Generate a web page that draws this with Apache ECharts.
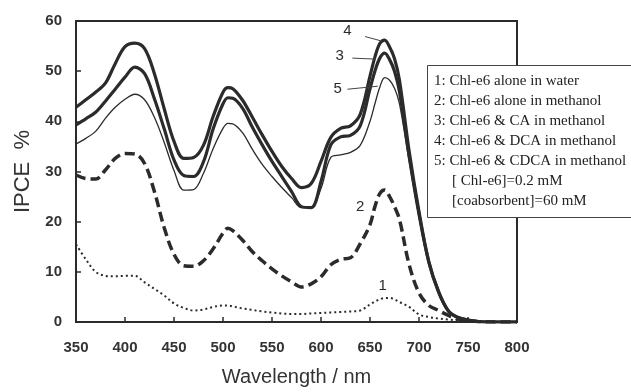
<!DOCTYPE html>
<html>
<head>
<meta charset="utf-8">
<script src="https://cdn.jsdelivr.net/npm/echarts@6/dist/echarts.min.js"></script>
<style>
  html, body { margin: 0; padding: 0; background: #fff; }
  #chart { width: 631px; height: 392px; }
</style>
</head>
<body>
<div id="chart"></div>
<script>
// wavelength grid (nm) shared by all curves
const wavelengths = [350, 360, 370, 380, 390, 400, 410, 420, 430, 440, 450, 460, 470, 480, 490, 500, 505, 510,
  520, 530, 540, 550, 560, 570, 580, 590, 600, 610, 620, 630, 640, 650, 655, 660, 665, 670, 675, 680,
  690, 700, 710, 720, 730, 740, 750, 760, 780, 800];

// IPCE %
const chlWater = [15.5, 12.5, 10, 9.2, 9.1, 9.2, 9.2, 7.9, 6.6, 5.3, 3.7, 2.8, 2.3, 2.5, 3, 3.3, 3.3, 3.1,
  2.7, 2.4, 2.1, 1.9, 1.7, 1.6, 1.6, 1.7, 1.8, 1.9, 2, 2.1, 2.3, 3.5, 4.1, 4.5, 4.8, 4.8, 4.5, 4,
  3, 1.5, 1, 0.7, 0.5, 0.3, 0.1, 0, 0, 0];
const chlMethanol = [29.3, 28.6, 28.5, 30.3, 32.6, 33.6, 33.5, 31.6, 26, 18.8, 13.5, 11.2, 11.1, 12.2, 14.6, 17.7, 18.7, 18.2,
  16.3, 14, 12.2, 10.6, 9.2, 8, 7, 7.6, 9, 11.4, 12.5, 12.8, 15.6, 19.4, 23, 25.6, 26.3, 25, 23, 20.5,
  11.4, 5.8, 3.3, 2.3, 1.3, 0.6, 0.3, 0.1, 0, 0];
const chlCA = [39.3, 40.5, 41.8, 44, 46.4, 48.8, 50.8, 49.5, 44.5, 38.5, 32.3, 29.2, 29, 31.9, 38.5, 43.5, 44.7, 44.6,
  42.6, 38.8, 35.3, 32, 29, 26, 23, 22.8, 28, 35.3, 36.9, 37.2, 39.1, 46.5, 50, 52.6, 53.6, 52.3, 50, 46,
  33, 21.5, 12, 6, 2.2, 0.9, 0.4, 0.1, 0, 0];
const chlDCA = [42.8, 44.3, 45.8, 47.6, 51.5, 54.9, 55.6, 54.5, 49.5, 42.5, 36, 32.6, 32.8, 35.2, 41, 45.8, 46.7, 46.5,
  44.2, 40.8, 37.3, 34, 31, 28.6, 26.8, 27.6, 32, 36.8, 38.6, 39.1, 41.4, 49, 52.8, 55.5, 56.2, 54.8, 52.5, 48.3,
  34, 22, 12, 6, 2.2, 0.9, 0.4, 0.1, 0, 0];
const chlCDCA = [35.5, 36.6, 38, 40.6, 42.8, 44.4, 45.4, 44.3, 40.8, 35.8, 30.2, 26.3, 26.4, 29.6, 34.6, 38.6, 39.6, 39.5,
  37.7, 34.4, 31.4, 29, 26.8, 24.8, 22.8, 22.9, 26.6, 32.8, 33.3, 33.8, 35.2, 40, 43.5, 46.8, 48.7, 48.2, 46.6, 43.6,
  32, 21, 12, 6, 2.2, 0.9, 0.4, 0.1, 0, 0];

const legendLines = [
  '1: Chl-e6 alone in water',
  '2: Chl-e6 alone in methanol',
  '3: Chl-e6 & CA in methanol',
  '4: Chl-e6 & DCA in methanol',
  '5: Chl-e6 & CDCA in methanol'
];
const noteLines = ['[ Chl-e6]=0.2 mM', '[coabsorbent]=60 mM'];

// curve number labels: [wavelength, IPCE] of label, and leader line ends
const curveTags = [
  { text: '1', at: [663, 7.2] },
  { text: '2', at: [640, 23] },
  { text: '3', at: [619, 53], line: [[632, 52.6], [656, 52.4]] },
  { text: '4', at: [627, 58], line: [[645, 56.9], [662, 56.0]] },
  { text: '5', at: [617, 46.4], line: [[627, 46.4], [658, 47]] }
];

const pairs = vals => wavelengths.map((w, i) => [w, vals[i]]);
const ink = '#2b2b2b';

function tagFor(num) {
  const t = curveTags.find(c => c.text === num);
  const out = {
    markPoint: {
      symbol: 'circle', symbolSize: 1, silent: true,
      itemStyle: { color: 'rgba(0,0,0,0)' },
      label: { show: true, position: 'inside', formatter: t.text, color: ink,
        fontFamily: 'Liberation Sans', fontSize: 15 },
      data: [{ coord: t.at }]
    }
  };
  if (t.line) {
    out.markLine = {
      symbol: 'none', silent: true, animation: false,
      lineStyle: { color: '#444', width: 1, type: 'solid' },
      label: { show: false },
      data: [[{ coord: t.line[0] }, { coord: t.line[1] }]]
    };
  }
  return out;
}

const chart = echarts.init(document.getElementById('chart'));

const series = [
  { name: legendLines[0], data: pairs(chlWater), width: 2, dash: [2, 3], tag: '1' },
  { name: legendLines[1], data: pairs(chlMethanol), width: 3.5, dash: [10, 5], tag: '2' },
  { name: legendLines[2], data: pairs(chlCA), width: 3.2, dash: 'solid', tag: '3' },
  { name: legendLines[3], data: pairs(chlDCA), width: 3.2, dash: 'solid', tag: '4' },
  { name: legendLines[4], data: pairs(chlCDCA), width: 1.3, dash: 'solid', tag: '5' }
].map(s => Object.assign({
  type: 'line',
  name: s.name,
  data: s.data,
  smooth: 0.35,
  showSymbol: false,
  animation: false,
  lineStyle: { color: ink, width: s.width, type: s.dash }
}, tagFor(s.tag)));

const legendGraphic = [
  {
    type: 'rect', left: 427, top: 65, z: 100,
    shape: { width: 210, height: 152 },
    style: { fill: '#fff', stroke: '#444', lineWidth: 1 }
  }
];
legendLines.concat(noteLines).forEach((line, i) => {
  legendGraphic.push({
    type: 'text', z: 101,
    left: i < legendLines.length ? 434 : 452,
    top: 74 + i * 20,
    style: { text: line, fill: '#222', font: '15px "Liberation Serif"' }
  });
});

chart.setOption({
  backgroundColor: '#fff',
  grid: {
    left: 76, right: 114, top: 21, bottom: 67,
    show: true, borderColor: ink, borderWidth: 2
  },
  xAxis: {
    type: 'value', min: 350, max: 800, interval: 50,
    name: 'Wavelength / nm', nameLocation: 'middle', nameGap: 45,
    nameTextStyle: { fontFamily: 'Liberation Sans', fontSize: 20, color: '#333' },
    axisLine: { lineStyle: { color: ink, width: 2 } },
    axisTick: { inside: true, length: 5, lineStyle: { color: ink, width: 1.5 } },
    axisLabel: { margin: 18, fontFamily: 'Liberation Sans', fontWeight: 'bold', fontSize: 15, color: '#333' },
    splitLine: { show: false }
  },
  yAxis: {
    type: 'value', min: 0, max: 60, interval: 10,
    name: 'IPCE  %', nameLocation: 'middle', nameGap: 42,
    nameTextStyle: { fontFamily: 'Liberation Sans', fontSize: 22, color: '#333' },
    axisLine: { show: true, lineStyle: { color: ink, width: 2 } },
    axisTick: { show: true, inside: true, length: 5, lineStyle: { color: ink, width: 1.5 } },
    axisLabel: { margin: 14, fontFamily: 'Liberation Sans', fontWeight: 'bold', fontSize: 15, color: '#333' },
    splitLine: { show: false }
  },
  graphic: legendGraphic,
  series: series
});
</script>
</body>
</html>
